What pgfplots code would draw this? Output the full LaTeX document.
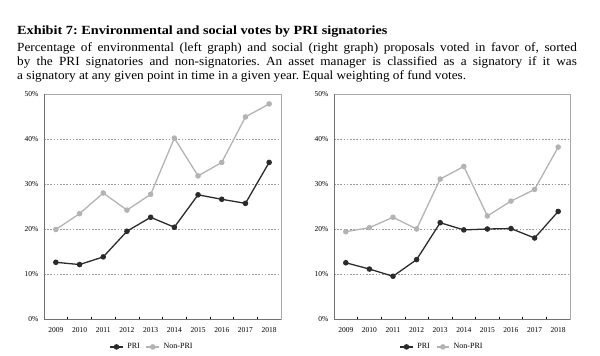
\documentclass[border=0pt]{standalone}
\usepackage{pgfplots}
\pgfplotsset{compat=1.18}
\usepackage{graphicx}
\usepackage{fontspec}
\setmainfont{Liberation Serif}
\frenchspacing
\definecolor{pri}{HTML}{2B2B2B}
\definecolor{npri}{HTML}{B3B3B3}
\definecolor{ldark}{HTML}{707070}
\definecolor{llight}{HTML}{A8A8A8}
\pgfplotsset{
  votes/.style={
    scale only axis, width=237pt, height=225pt,
    xmin=-0.5, xmax=9.5, ymin=0, ymax=50,
    xtick={0,...,9},
    xticklabels={2009,2010,2011,2012,2013,2014,2015,2016,2017,2018},
    ytick={0,10,...,50},
    yticklabel={\pgfmathprintnumber{\tick}\%},
    /pgf/number format/assume math mode=true,
    major tick length=0pt,
    tick pos=left,
    extra x ticks={0.5,1.5,...,8.5},
    extra x tick labels={},
    extra x tick style={major tick length=2.5pt, tick style={black, line width=0.6pt}},
    ticklabel style={font=\fontsize{7.5}{8}\selectfont},
    xticklabel style={yshift=-4.5pt},
    yticklabel style={inner sep=0pt, xshift=-5.5pt},
    ymajorgrids,
    grid style={draw=gray!80, dash pattern=on 1.6pt off 1.6pt, line width=0.7pt},
    axis line style={draw=llight, line width=0.9pt},
    legend style={draw=none, fill=none, legend columns=2, anchor=center,
      font=\fontsize{8}{9}\selectfont, column sep=2pt,
      /tikz/every even column/.append style={column sep=4pt}},
    legend image code/.code={\draw[mark repeat=2,mark phase=2] plot coordinates {(0cm,0cm)(0.22cm,0cm)(0.44cm,0cm)};},
    every axis plot/.append style={line width=1.3pt, mark=*, mark size=2.1pt},
  }
}
\begin{document}
\begin{tikzpicture}
\path[use as bounding box] (0,0) rectangle (600pt,-356pt);
\node[anchor=base west, inner sep=0pt, font=\fontsize{12.5}{13}\selectfont\bfseries] at (17pt,-34.3pt) {\scalebox{1.14}[1]{Exhibit 7: Environmental and social votes by PRI signatories}};
\node[anchor=base west, inner sep=0pt, font=\fontsize{12.5}{13}\selectfont] at (17pt,-51.7pt) {\scalebox{1.06}[1]{\makebox[528pt][s]{Percentage of environmental (left graph) and social (right graph) proposals voted in favor of, sorted}}};
\node[anchor=base west, inner sep=0pt, font=\fontsize{12.5}{13}\selectfont] at (17pt,-65.3pt) {\scalebox{1.06}[1]{\makebox[528pt][s]{by the PRI signatories and non-signatories. An asset manager is classified as a signatory if it was}}};
\node[anchor=base west, inner sep=0pt, font=\fontsize{12.5}{13}\selectfont] at (17pt,-79pt) {\scalebox{1.06}[1]{a signatory at any given point in time in a given year. Equal weighting of fund votes.}};

\begin{axis}[votes, at={(44pt,-319pt)}, anchor=south west,
  legend style={at={(0.456,-0.124)}}]
\addplot[pri, mark options={fill=pri}] coordinates {(0,12.6)(1,12.1)(2,13.8)(3,19.5)(4,22.6)(5,20.4)(6,27.6)(7,26.6)(8,25.7)(9,34.8)};
\addplot[npri, mark options={fill=npri}] coordinates {(0,19.9)(1,23.4)(2,28.0)(3,24.2)(4,27.7)(5,40.2)(6,31.8)(7,34.8)(8,44.9)(9,47.8)};
\legend{PRI, Non-PRI}
\draw[ldark, line width=0.9pt] (rel axis cs:0,1) -- (rel axis cs:0,0) -- (rel axis cs:1,0);
\end{axis}

\begin{axis}[votes, width=236pt, at={(334pt,-319pt)}, anchor=south west,
  legend style={at={(0.458,-0.124)}}]
\addplot[pri, mark options={fill=pri}] coordinates {(0,12.5)(1,11.1)(2,9.5)(3,13.2)(4,21.4)(5,19.8)(6,20.0)(7,20.1)(8,18.0)(9,23.9)};
\addplot[npri, mark options={fill=npri}] coordinates {(0,19.4)(1,20.3)(2,22.6)(3,20.0)(4,31.1)(5,33.9)(6,22.9)(7,26.2)(8,28.8)(9,38.2)};
\legend{PRI, Non-PRI}
\draw[ldark, line width=0.9pt] (rel axis cs:0,1) -- (rel axis cs:0,0) -- (rel axis cs:1,0);
\end{axis}
\end{tikzpicture}
\end{document}
